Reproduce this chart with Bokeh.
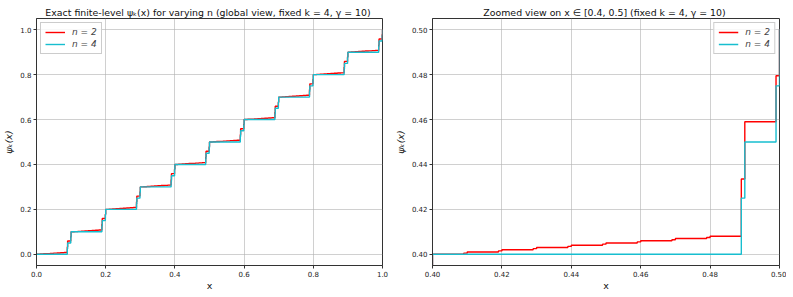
from bokeh.plotting import figure
from bokeh.layouts import row
from bokeh.models import Range1d, FixedTicker, NumeralTickFormatter, Title
from bokeh.embed import file_html
from bokeh.resources import INLINE

# ---- data ----
decade_starts = [0.0, 0.1, 0.2, 0.3, 0.4, 0.5, 0.6, 0.7, 0.8, 0.9]
# step pattern inside one decade (offsets from the decade start)
red_dx = [0.000, 0.009, 0.010, 0.019, 0.020, 0.029, 0.030, 0.039, 0.040, 0.049,
          0.050, 0.059, 0.060, 0.069, 0.070, 0.079, 0.080, 0.089, 0.090, 0.099]
red_dy = [0.0000, 0.0005, 0.0010, 0.0015, 0.0020, 0.0025, 0.0030, 0.0035, 0.0040, 0.0045,
          0.0050, 0.0055, 0.0060, 0.0065, 0.0070, 0.0075, 0.0080, 0.0335, 0.0590, 0.0795]
cyan_dx = [0.000, 0.089, 0.090, 0.099]
cyan_dy = [0.000, 0.025, 0.050, 0.075]
end_x = 1.0
end_y = 1.0

series_labels = ["n = 2", "n = 4"]
series_colors = ["#ff0000", "#17becf"]

left_xticks = [0.0, 0.2, 0.4, 0.6, 0.8, 1.0]
left_yticks = [0.0, 0.2, 0.4, 0.6, 0.8, 1.0]
right_xticks = [0.40, 0.42, 0.44, 0.46, 0.48, 0.50]
right_yticks = [0.40, 0.42, 0.44, 0.46, 0.48, 0.50]


def build(dx, dy):
    xs = [round(b + d, 6) for b in decade_starts for d in dx] + [end_x]
    ys = [round(b + d, 6) for b in decade_starts for d in dy] + [end_y]
    return xs, ys


red_x, red_y = build(red_dx, red_dy)
cyan_x, cyan_y = build(cyan_dx, cyan_dy)

FONT = "DejaVu Sans"


def make_fig(title, xr, yr, xt, yt, fmt, fw, min_left, min_right, legend_loc):
    p = figure(frame_width=fw, frame_height=247, x_range=Range1d(*xr), y_range=Range1d(*yr),
               output_backend="svg", toolbar_location=None, title=None,
               min_border_left=min_left, min_border_right=min_right,
               min_border_top=0, min_border_bottom=0)
    t = Title(text=title, text_font=FONT, text_font_size="9.4px", text_font_style="normal",
              text_color="#111111", align="center", standoff=1)
    p.add_layout(t, "above")
    spacer = Title(text=" ", text_font=FONT, text_font_size="2px", standoff=0)
    p.add_layout(spacer, "above")
    p.background_fill_color = "white"
    p.border_fill_color = "white"
    p.outline_line_color = "#333333"
    p.outline_line_width = 1
    for ax in (p.xaxis[0], p.yaxis[0]):
        ax.major_label_text_font = FONT
        ax.major_label_text_font_size = "7px"
        ax.major_label_text_color = "#222222"
        ax.axis_label_text_font = FONT
        ax.axis_label_text_font_size = "9.5px"
        ax.axis_label_text_color = "#111111"
        ax.major_tick_in = 0
        ax.major_tick_out = 3
        ax.minor_tick_line_color = None
        ax.axis_line_color = "#333333"
        ax.major_tick_line_color = "#333333"
        ax.major_label_standoff = 2
        ax.formatter = NumeralTickFormatter(format=fmt)
    p.xaxis[0].axis_label_text_font_style = "normal"
    p.yaxis[0].axis_label_text_font_style = "italic"
    p.xaxis[0].axis_label_standoff = 0
    p.yaxis[0].axis_label_standoff = 3
    p.xaxis[0].ticker = FixedTicker(ticks=xt)
    p.yaxis[0].ticker = FixedTicker(ticks=yt)
    p.xaxis.axis_label = "x"
    p.yaxis.axis_label = "ψₖ(x)"
    p.xgrid.grid_line_color = "#b0b0b0"
    p.ygrid.grid_line_color = "#b0b0b0"
    p.xgrid.grid_line_alpha = 0.6
    p.ygrid.grid_line_alpha = 0.6
    p.step(red_x, red_y, mode="after", line_color=series_colors[0], line_width=1.4,
           legend_label=series_labels[0])
    p.step(cyan_x, cyan_y, mode="after", line_color=series_colors[1], line_width=1.4,
           legend_label=series_labels[1])
    lg = p.legend[0]
    lg.location = legend_loc
    lg.label_text_font = FONT
    lg.label_text_font_size = "9px"
    lg.label_text_font_style = "italic"
    lg.border_line_color = "#cccccc"
    lg.border_line_alpha = 1
    lg.background_fill_alpha = 0.85
    lg.glyph_width = 20
    lg.glyph_height = 10
    lg.label_height = 10
    lg.spacing = 2
    lg.padding = 4
    lg.margin = 4
    lg.label_standoff = 7
    return p


p1 = make_fig("Exact finite-level ψₖ(x) for varying n (global view, fixed k = 4,  γ = 10)",
              (0.0, 1.0), (-0.05, 1.05), left_xticks, left_yticks, "0.0",
              346, 30, 9, "top_left")
p2 = make_fig("Zoomed view on x ∈ [0.4, 0.5] (fixed k = 4,  γ = 10)",
              (0.4, 0.5), (0.395, 0.505), right_xticks, right_yticks, "0.00",
              347, 38, 7, "top_right")

layout = row(p1, p2)
open("out.html", "w").write(file_html(layout, INLINE))
